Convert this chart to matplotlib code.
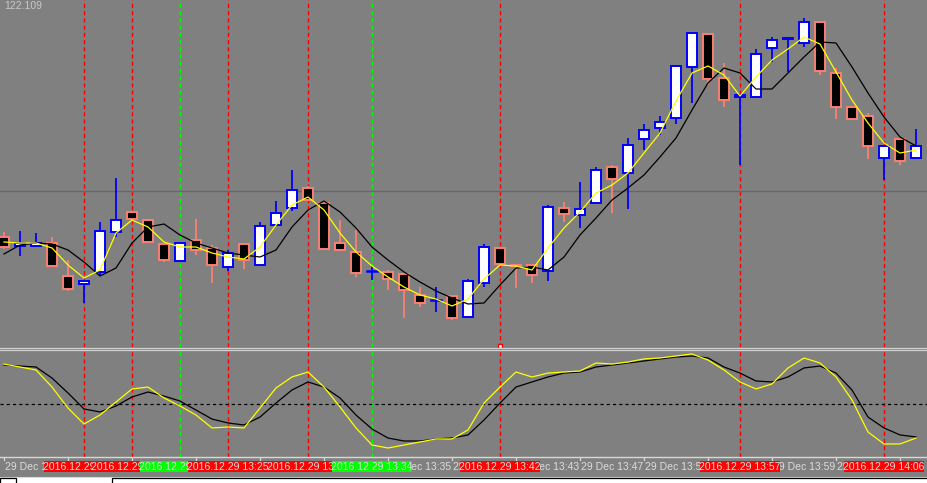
import matplotlib
matplotlib.use("Agg")
import matplotlib.pyplot as plt
from matplotlib.patches import Rectangle

# bar data, in screen rows of the price pane (0 = top)
opens = [237, 246, 246, 243, 276, 284, 272, 232, 212, 220, 244, 261, 240, 248, 267, 244,
         265, 225, 208, 188, 203, 243, 252, 271, 272, 274, 295, 300, 296, 317, 283, 248,
         265, 265, 271, 208, 215, 203, 167, 173, 139, 128, 118, 67, 34, 78, 97, 97,
         48, 39, 43, 22, 73, 107, 116, 158, 139, 158]
highs = [232, 231, 233, 237, 260, 281, 222, 178, 211, 220, 244, 243, 219, 245, 250, 244,
         222, 201, 170, 186, 203, 220, 230, 266, 270, 274, 287, 287, 296, 279, 244, 248,
         265, 265, 205, 202, 182, 167, 165, 138, 124, 116, 66, 33, 34, 63, 95, 49,
         37, 37, 18, 22, 68, 107, 113, 146, 139, 129]
lows = [249, 256, 247, 266, 291, 303, 276, 237, 220, 242, 262, 261, 255, 283, 271, 269,
        265, 225, 211, 200, 249, 250, 277, 280, 290, 318, 307, 312, 320, 318, 287, 264,
        288, 283, 281, 222, 228, 203, 213, 209, 150, 135, 124, 103, 85, 107, 165, 97,
        62, 72, 47, 75, 119, 119, 159, 180, 165, 158]
closes = [247, 243, 243, 266, 289, 281, 231, 220, 219, 242, 260, 243, 250, 265, 253, 260,
          226, 213, 190, 200, 249, 250, 273, 271, 279, 290, 303, 300, 318, 281, 247, 264,
          266, 275, 207, 214, 209, 170, 179, 145, 130, 122, 66, 33, 79, 100, 95, 54,
          40, 38, 22, 71, 107, 119, 146, 146, 161, 146]

ma_fast = [242, 243, 243, 248, 265, 278, 270, 233, 220, 227, 242, 247, 247, 253, 257, 259,
           247, 225, 205, 197, 210, 233, 252, 266, 277, 287, 295, 299, 306, 299, 279, 265,
           266, 270, 248, 228, 212, 193, 185, 173, 153, 133, 101, 73, 66, 75, 96, 77,
           60, 49, 37, 44, 72, 100, 123, 143, 153, 150]
ma_slow = [254, 245, 243, 244, 250, 262, 276, 268, 243, 227, 224, 235, 243, 248, 253, 255,
           257, 250, 227, 210, 201, 212, 228, 247, 260, 272, 282, 291, 298, 304, 303, 285,
           268, 267, 270, 257, 235, 218, 200, 188, 175, 157, 138, 110, 83, 68, 73, 89,
           89, 73, 57, 42, 43, 67, 93, 117, 137, 146]

# oscillator pane, 0..100
osc_main = [87.7, 84.9, 82.1, 66.0, 46.2, 31.1, 39.6, 51.9, 64.2, 66.0, 55.7, 48.1, 39.6, 27.4,
            28.3, 27.4, 46.2, 65.1, 75.5, 80.2, 66.0, 47.2, 27.4, 11.3, 8.5, 11.3, 14.2, 17.0,
            17.0, 25.5, 50.9, 66.0, 80.2, 75.5, 79.2, 80.2, 81.1, 88.7, 87.7, 89.6, 92.5, 93.4,
            95.3, 97.2, 91.5, 82.1, 70.8, 64.2, 68.9, 84.0, 93.4, 88.7, 75.5, 53.8, 23.6, 12.3,
            12.3, 17.9]
osc_signal = [86.8, 85.8, 84.9, 74.5, 60.4, 45.3, 42.5, 48.1, 56.6, 61.3, 57.5, 52.8, 44.3, 35.8,
              32.1, 30.2, 37.7, 50.9, 63.2, 70.8, 66.0, 55.7, 39.6, 26.4, 17.9, 15.1, 15.1, 17.0,
              17.9, 20.8, 34.9, 50.9, 66.0, 70.8, 75.5, 79.2, 80.2, 84.9, 86.8, 88.7, 90.6, 92.5,
              94.3, 95.3, 93.4, 84.9, 79.2, 71.7, 70.8, 75.5, 84.0, 85.8, 79.2, 63.2, 37.7, 27.4,
              20.8, 18.9]
osc_level = 50

tick_bars = [0, 4, 8, 12, 16, 20, 24, 28, 32, 36, 40, 44, 48, 52, 56]
tick_labels = ["29 Dec 13:11", "29 Dec 13:15", "29 Dec 13:19", "29 Dec 13:23", "29 Dec 13:27",
               "29 Dec 13:31", "29 Dec 13:35", "29 Dec 13:39", "29 Dec 13:43", "29 Dec 13:47",
               "29 Dec 13:51", "29 Dec 13:55", "29 Dec 13:59", "29 Dec 14:03", ""]

mark_bars = [5, 8, 11, 14, 19, 23, 31, 46, 55]
mark_colors = ["#ff0000", "#ff0000", "#00ff00", "#ff0000", "#ff0000", "#00ff00",
               "#ff0000", "#ff0000", "#ff0000"]
mark_labels = ["2016.12.29 13:16", "2016.12.29 13:19", "2016.12.29 13:22", "2016.12.29 13:25",
               "2016.12.29 13:30", "2016.12.29 13:34", "2016.12.29 13:42", "2016.12.29 13:57",
               "2016.12.29 14:06"]
price_label = "122.109"
price_line = 191

bg = "#808080"
bull_edge = "#0000ff"
bear_edge = "#fa8072"
txt = "#dcdcdc"
plt.rcParams["font.family"] = ["Liberation Sans", "DejaVu Sans"]

W, H = 928, 483
fig = plt.figure(figsize=(W / 100, H / 100), dpi=100, facecolor=bg)
x0, x1 = -0.25, 57.75

ax = fig.add_axes([0, (H - 347) / H, 1, 347 / H])
ax2 = fig.add_axes([0, (H - 457) / H, 1, 106 / H])
axb = fig.add_axes([0, 0, 1, (H - 457) / H])
for a in (ax, ax2, axb):
    a.set_facecolor(bg)
    a.set_xlim(x0, x1)
    a.axis("off")
ax.set_ylim(347, 0)
ax2.set_ylim(0, 100)
axb.set_ylim(H, 457)

# vertical marker lines
for b, c in zip(mark_bars, mark_colors):
    for a in (ax, ax2):
        a.axvline(b, color=c, lw=1.0, ls=(0, (3, 2.2)), zorder=1)

ax.axhline(price_line, color="#66666c", lw=1.0, zorder=1)

# candles
bw = 0.62
for i in range(len(opens)):
    o, h, l, c = opens[i], highs[i], lows[i], closes[i]
    up = c <= o
    ec = bull_edge if up else bear_edge
    fc = "white" if up else "black"
    ax.plot([i, i], [h, l], color=ec, lw=1.3, zorder=2, solid_capstyle="butt")
    if o == c:
        ax.plot([i - bw / 2, i + bw / 2], [o, o], color=ec, lw=1.8, zorder=3)
    else:
        ax.add_patch(Rectangle((i - bw / 2, min(o, c)), bw, abs(o - c),
                               facecolor=fc, edgecolor=ec, lw=1.4, zorder=3))

xs = list(range(len(opens)))
ax.plot(xs, ma_slow, color="black", lw=0.9, zorder=4)
ax.plot(xs, ma_fast, color="#ffff00", lw=0.9, zorder=5)
ax.text(0.004, 0.997, price_label, transform=ax.transAxes, ha="left", va="top",
        fontsize=7.5, color="#c8c8c8")
ax.plot([31], [346], marker="s", ms=3.5, mfc="white", mec="red", mew=1,
        clip_on=False, zorder=6)

# oscillator
ax2.axhline(osc_level, color="black", lw=0.9, ls=(0, (2.5, 2.5)), zorder=2)
ax2.plot(xs, osc_signal, color="black", lw=0.9, zorder=3)
ax2.plot(xs, osc_main, color="#ffff00", lw=0.9, zorder=4)

# pane separator
for yy in (348.3, 350.3):
    fig.add_artist(plt.Line2D([0, 1], [(H - yy) / H] * 2, color="#d2d2d2", lw=0.9))

# time axis
axb.plot([x0, x1], [457, 457], color="#d8d8d8", lw=1.0, clip_on=False)
for b, lab in zip(tick_bars, tick_labels):
    axb.plot([b, b], [457, 460], color="#d8d8d8", lw=0.9)
    if lab:
        axb.text(b + 0.05, 466.5, lab, ha="left", va="center", fontsize=7.5, color=txt,
                 zorder=1)
for k, (b, c, lab) in enumerate(zip(mark_bars, mark_colors, mark_labels)):
    box = Rectangle((b - 2.5, 461), 5, 11, facecolor=c, edgecolor="none", zorder=10 + 2 * k)
    axb.add_patch(box)
    t = axb.text(b, 466.5, lab, ha="center", va="center", fontsize=7.5, color=txt,
                 zorder=11 + 2 * k)
    t.set_clip_path(box)

# tab strip at the bottom
axb.add_patch(Rectangle((x0, 477), x1 - x0, 7, facecolor="white", edgecolor="none", zorder=40))
axb.plot([x0, x1], [476.5, 476.5], color="#d8d8d8", lw=0.8, zorder=41)
axb.add_patch(Rectangle((x0 + 0.02, 478), 1.0, 6, facecolor="white", edgecolor="black",
                        lw=0.9, zorder=41))
axb.add_patch(Rectangle((6.75, 478), 52, 6, facecolor="white", edgecolor="black",
                        lw=0.9, zorder=41))

fig.savefig("out.png", dpi=100, facecolor=bg)
